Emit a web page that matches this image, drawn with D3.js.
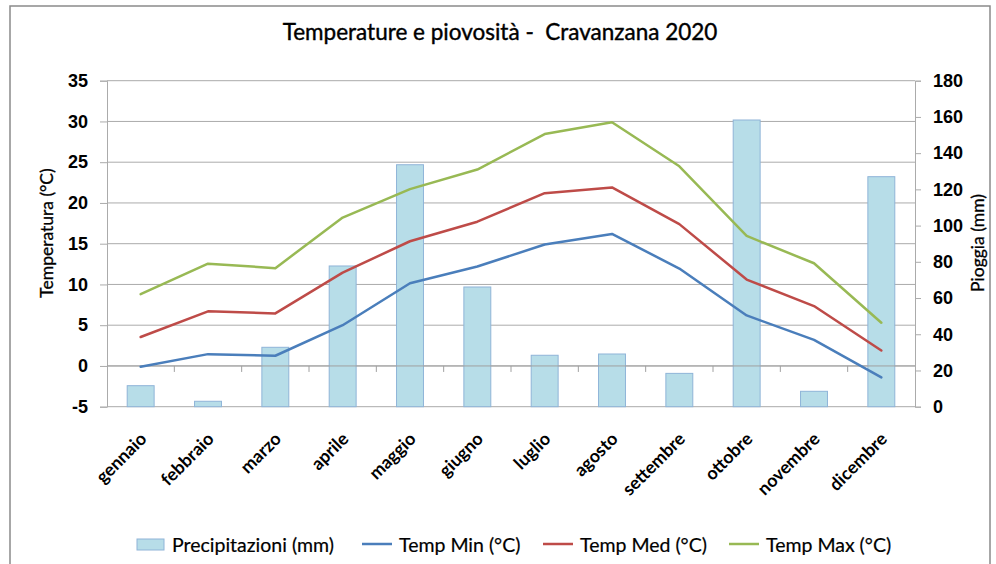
<!DOCTYPE html>
<html>
<head>
<meta charset="utf-8">
<script src="https://cdn.jsdelivr.net/npm/d3@7"></script>
<style>
  body { margin: 0; background: #fff; }
  svg { display: block; font-family: Lato, "Liberation Sans", sans-serif; }
  .tick-label { font-size: 18px; font-weight: bold; fill: #000; }
  .month-label { font-size: 17.8px; font-weight: bold; fill: #000; }
  .axis-title { font-size: 17.5px; fill: #000; stroke: #000; stroke-width: 0.3px; }
  .legend { font-size: 19.5px; fill: #000; stroke: #000; stroke-width: 0.2px; }
</style>
</head>
<body>
<div id="chart"></div>
<script>
const months = ["gennaio", "febbraio", "marzo", "aprile", "maggio", "giugno",
  "luglio", "agosto", "settembre", "ottobre", "novembre", "dicembre"];
const rain = [11.6, 3.0, 32.8, 77.7, 133.6, 66.1, 28.4, 29.1, 18.4, 158.3, 8.5, 127.0];
const tMin = [-0.1, 1.45, 1.25, 5.0, 10.15, 12.2, 14.9, 16.2, 11.95, 6.2, 3.2, -1.4];
const tMed = [3.55, 6.7, 6.45, 11.45, 15.3, 17.7, 21.2, 21.9, 17.4, 10.6, 7.35, 1.9];
const tMax = [8.8, 12.55, 12.0, 18.2, 21.7, 24.1, 28.45, 29.9, 24.5, 15.95, 12.6, 5.3];
const tempTicks = [-5, 0, 5, 10, 15, 20, 25, 30, 35];
const rainTicks = [0, 20, 40, 60, 80, 100, 120, 140, 160, 180];

const W = 996, H = 564;
const plot = { left: 107, right: 915, top: 80.7, bottom: 406.7 };

const svg = d3.select("#chart").append("svg")
  .attr("width", W).attr("height", H);

// outer frame
svg.append("rect")
  .attr("x", 10).attr("y", 6).attr("width", 980).attr("height", 620)
  .attr("fill", "none").attr("stroke", "#8a8a8a").attr("stroke-width", 1.5);

const x = d3.scaleBand().domain(months).range([plot.left, plot.right]).padding(0);
const yT = d3.scaleLinear().domain([-5, 35]).range([plot.bottom, plot.top]);
const yP = d3.scaleLinear().domain([0, 180]).range([plot.bottom, plot.top]);

// gridlines
svg.append("g")
  .selectAll("line").data(tempTicks).join("line")
  .attr("x1", plot.left).attr("x2", plot.right)
  .attr("y1", d => yT(d)).attr("y2", d => yT(d))
  .attr("stroke", "#ababab").attr("stroke-width", 1);

// bars
const bw = x.bandwidth() / 2.5;
svg.append("g")
  .selectAll("rect").data(rain).join("rect")
  .attr("x", (d, i) => x(months[i]) + (x.bandwidth() - bw) / 2)
  .attr("y", d => yP(d))
  .attr("width", bw)
  .attr("height", d => yP(0) - yP(d))
  .attr("fill", "#b7dde8")
  .attr("stroke", "#8fb4d8").attr("stroke-width", 1);

// left axis
const leftAxis = svg.append("g")
  .attr("transform", `translate(${plot.left},0)`)
  .call(d3.axisLeft(yT).tickValues(tempTicks).tickFormat(d => String(d))
    .tickSize(7).tickPadding(12));
leftAxis.select(".domain").attr("stroke", "#ababab");
leftAxis.selectAll(".tick line").attr("stroke", "#ababab");
leftAxis.selectAll(".tick text").attr("class", "tick-label").attr("font-family", null).attr("font-size", null);

// right axis
const rightAxis = svg.append("g")
  .attr("transform", `translate(${plot.right},0)`)
  .call(d3.axisRight(yP).tickValues(rainTicks).tickFormat(d => String(d))
    .tickSize(6).tickPadding(12));
rightAxis.select(".domain").attr("stroke", "#ababab");
rightAxis.selectAll(".tick line").attr("stroke", "#ababab");
rightAxis.selectAll(".tick text").attr("class", "tick-label").attr("font-family", null).attr("font-size", null);

// category axis at temperature 0
const catAxis = svg.append("g").attr("transform", `translate(0,${yT(0)})`);
catAxis.append("line")
  .attr("x1", plot.left).attr("x2", plot.right)
  .attr("stroke", "#a0a0a0");
catAxis.selectAll("line.tk").data(months.slice(1)).join("line")
  .attr("class", "tk")
  .attr("x1", d => x(d)).attr("x2", d => x(d))
  .attr("y1", 0).attr("y2", 6)
  .attr("stroke", "#a0a0a0");

// month labels
svg.append("g")
  .selectAll("text").data(months).join("text")
  .attr("class", "month-label")
  .attr("text-anchor", "end")
  .attr("transform", d => `translate(${x(d) + x.bandwidth() / 2 + 7},440) rotate(-45)`)
  .text(d => d);

// lines
const series = [
  { name: "Temp Min (°C)", values: tMin, color: "#4a7ebb" },
  { name: "Temp Med (°C)", values: tMed, color: "#be4b48" },
  { name: "Temp Max (°C)", values: tMax, color: "#98b954" }
];
const line = d3.line()
  .x((d, i) => x(months[i]) + x.bandwidth() / 2)
  .y(d => yT(d));
svg.append("g")
  .selectAll("path").data(series).join("path")
  .attr("d", d => line(d.values))
  .attr("fill", "none")
  .attr("stroke", d => d.color)
  .attr("stroke-width", 2.5)
  .attr("stroke-linejoin", "round")
  .attr("stroke-linecap", "round");

// titles
svg.append("text")
  .attr("x", 500).attr("y", 40)
  .attr("text-anchor", "middle")
  .style("font-size", "22.5px")
  .style("white-space", "pre")
  .style("stroke", "#000").style("stroke-width", 0.4)
  .text("Temperature e piovosità -  Cravanzana 2020");

svg.append("text")
  .attr("class", "axis-title")
  .attr("text-anchor", "middle")
  .attr("transform", `translate(53,233) rotate(-90)`)
  .text("Temperatura (°C)");

svg.append("text")
  .attr("class", "axis-title")
  .attr("text-anchor", "middle")
  .attr("transform", `translate(984,243) rotate(-90)`)
  .text("Pioggia (mm)");

// legend
const legend = svg.append("g");
legend.append("rect")
  .attr("x", 137).attr("y", 539).attr("width", 27).attr("height", 11)
  .attr("fill", "#b7dde8").attr("stroke", "#8fb4d8");
legend.append("text").attr("class", "legend")
  .attr("x", 172).attr("y", 552).text("Precipitazioni (mm)");

const legendPos = [362, 543, 729];
series.forEach((s, i) => {
  legend.append("line")
    .attr("x1", legendPos[i]).attr("x2", legendPos[i] + 30)
    .attr("y1", 544).attr("y2", 544)
    .attr("stroke", s.color).attr("stroke-width", 2.5);
  legend.append("text").attr("class", "legend")
    .attr("x", legendPos[i] + 37).attr("y", 552).text(s.name);
});
</script>
</body>
</html>
